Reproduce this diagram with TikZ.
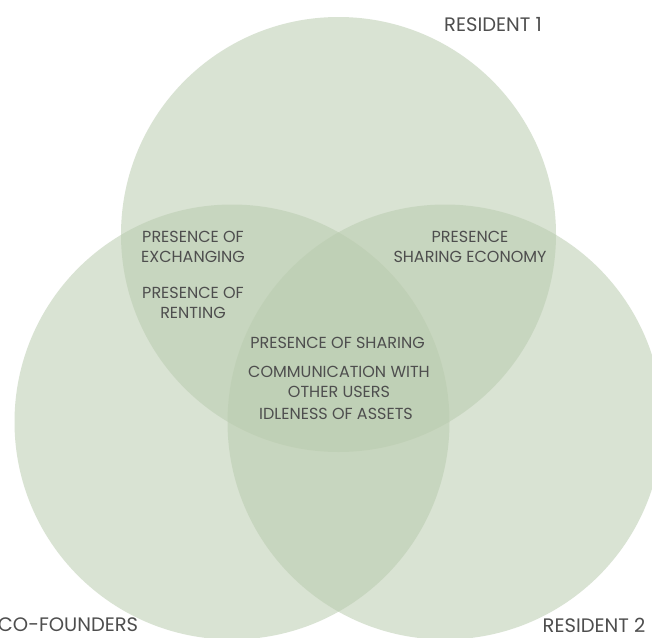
\documentclass[tikz,border=0pt]{standalone}
\usepackage{fontspec}
\setmainfont{Poppins}
\begin{document}
\definecolor{sage}{RGB}{186,204,175}
\definecolor{labelgray}{RGB}{78,78,78}
\begin{tikzpicture}[x=1pt,y=-1pt,
  setcircle/.style={fill=sage,fill opacity=0.55,draw=none},
  lbl/.style={text=labelgray,font=\fontsize{16}{20}\selectfont,align=center,inner sep=0pt},
  setname/.style={lbl,font=\fontsize{19.5}{22}\selectfont}]
\useasboundingbox (0,0) rectangle (652,637);
\clip (0,0) rectangle (652,637);
\fill[white] (0,0) rectangle (652,637);
% the three sets
\fill[setcircle] (338.5,234.5) circle (217.5);
\fill[setcircle] (232,422) circle (217.5);
\fill[setcircle] (445,422) circle (217.5);
% set names
\node[setname] (r1) at (493,25) {RESIDENT 1};
\node[setname] (cof) at (68,625) {CO-FOUNDERS};
\node[setname] (r2) at (594,625) {RESIDENT 2};
% pairwise overlaps
\node[lbl] (exch) at (193,247) {PRESENCE OF\\EXCHANGING};
\node[lbl] (rent) at (193,303) {PRESENCE OF\\RENTING};
\node[lbl] (econ) at (470,247) {PRESENCE\\SHARING ECONOMY};
% common to all three
\node[lbl] (share) at (337.5,343) {PRESENCE OF SHARING};
\node[lbl] (comm) at (339,381.5) {COMMUNICATION WITH\\OTHER USERS};
\node[lbl] (idle) at (336,414) {IDLENESS OF ASSETS};
\end{tikzpicture}
\end{document}
